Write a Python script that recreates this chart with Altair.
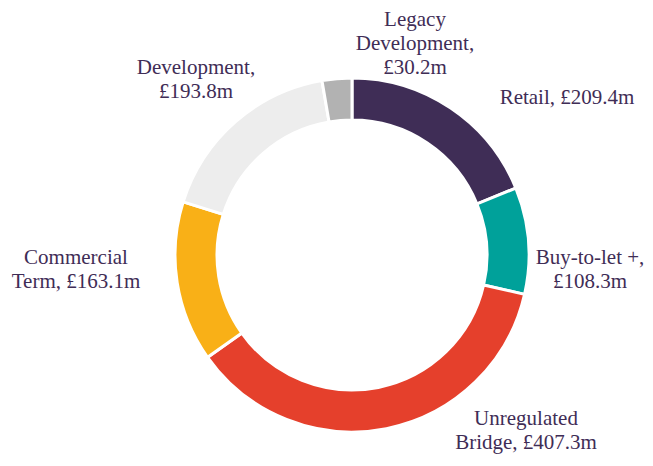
import altair as alt
import pandas as pd

# Data
categories = ["Retail", "Buy-to-let +", "Unregulated Bridge", "Commercial Term", "Development", "Legacy Development"]
values = [209.4, 108.3, 407.3, 163.1, 193.8, 30.2]
colors = ["#3f2d56", "#00a19a", "#e5402c", "#f9b017", "#ededed", "#b2b2b2"]
labels = [
    "Retail, £209.4m",
    "Buy-to-let +,\n£108.3m",
    "Unregulated\nBridge, £407.3m",
    "Commercial\nTerm, £163.1m",
    "Development,\n£193.8m",
    "Legacy\nDevelopment,\n£30.2m",
]

# Label layout (pixel positions of first line, within chart area)
label_x = [559, 582, 518, 68, 188, 407]
label_y = [90, 250, 411, 250, 60, 12]

df = pd.DataFrame({"category": categories, "value": values, "order": list(range(len(categories)))})
lab = pd.DataFrame({"label": labels, "x": label_x, "y": label_y})

W, H = 637, 448
cx, cy = 344, 247

arcs = alt.Chart(df).mark_arc(innerRadius=135, outerRadius=177, stroke="white", strokeWidth=3).encode(
    theta=alt.Theta("value:Q", stack=True),
    order=alt.Order("order:Q"),
    color=alt.Color("category:N", scale=alt.Scale(domain=categories, range=colors), legend=None),
    x=alt.value(cx),
    y=alt.value(cy),
)

text = alt.Chart(lab).mark_text(
    font="Liberation Serif", fontSize=21, color="#3f2d56", lineBreak="\n",
    align="center", baseline="middle", lineHeight=24,
).encode(
    x=alt.X("x:Q", scale=None),
    y=alt.Y("y:Q", scale=None),
    text="label:N",
)

chart = alt.layer(arcs, text).properties(
    width=W, height=H, padding=0, autosize=alt.AutoSizeParams(type="none")
).configure_view(stroke=None)

chart.save("out.html", embed_options={"renderer": "svg", "actions": False})
